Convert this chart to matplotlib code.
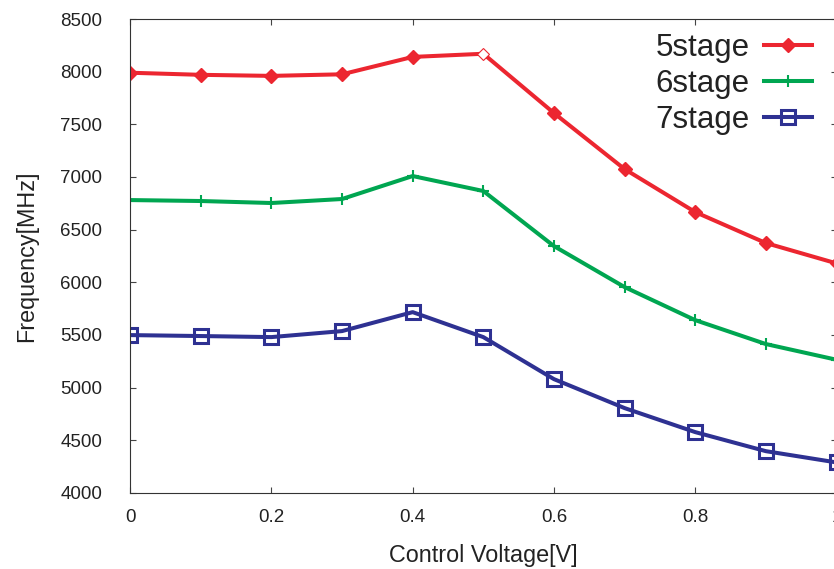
import numpy as np
import matplotlib.pyplot as plt

plt.rcParams['font.family'] = ['Liberation Sans', 'DejaVu Sans']

voltage = [0, 0.1, 0.2, 0.3, 0.4, 0.5, 0.6, 0.7, 0.8, 0.9, 1.0]
freq5 = [7990, 7970, 7960, 7975, 8140, 8170, 7607, 7075, 6667, 6373, 6180]
freq6 = [6781, 6772, 6753, 6791, 7009, 6867, 6344, 5955, 5641, 5414, 5265]
freq7 = [5499, 5490, 5480, 5537, 5717, 5480, 5081, 4806, 4578, 4397, 4290]

red = '#ec2630'
green = '#00a651'
blue = '#2e3192'

fig = plt.figure(figsize=(8.34, 5.69), dpi=100)
ax = fig.add_axes([0.156, 0.1336, 0.847, 0.833])

# the marker at 0.5 shows up hollow in the original
ax.plot(voltage, freq5, color=red, lw=2.9, marker='D', ms=7.5, markevery=[0, 1, 2, 3, 4, 6, 7, 8, 9, 10],
        label='5stage')
ax.plot(voltage[5], freq5[5], marker='D', ms=6.5, mfc='white', mec=red, mew=0.8, ls='none')
ax.plot(voltage, freq6, color=green, lw=2.9, marker='+', ms=8, mew=1.5, label='6stage')
ax.plot(voltage, freq7, color=blue, lw=2.9, marker='s', ms=9.5, mfc='none', mew=2.2, label='7stage')

ax.set_xlim(0, 1)
ax.set_ylim(4000, 8500)
ax.set_xticks([0, 0.2, 0.4, 0.6, 0.8, 1])
ax.set_xticklabels(['0', '0.2', '0.4', '0.6', '0.8', '1'])
ax.set_yticks(np.arange(4000, 8501, 500))
ax.tick_params(direction='in', top=True, right=True, labelsize=13.5, length=4.5, color='#444444',
               labelcolor='#222222')
ax.tick_params(axis='x', pad=11.5)
ax.tick_params(axis='y', pad=20)
for s in ax.spines.values():
    s.set_color('#333333')

ax.set_xlabel('Control Voltage[V]', fontsize=16.8, labelpad=13, color='#222222')
ax.set_ylabel('Frequency[MHz]', fontsize=16.8, labelpad=16, color='#222222')

leg = ax.legend(loc='upper right', markerfirst=False, frameon=False, fontsize=22.5,
                handlelength=1.55, labelspacing=0.18, borderaxespad=0.0, handletextpad=0.45,
                bbox_to_anchor=(0.983, 0.996))
for t in leg.get_texts():
    t.set_color('#222222')

fig.savefig('out.png', dpi=100)
